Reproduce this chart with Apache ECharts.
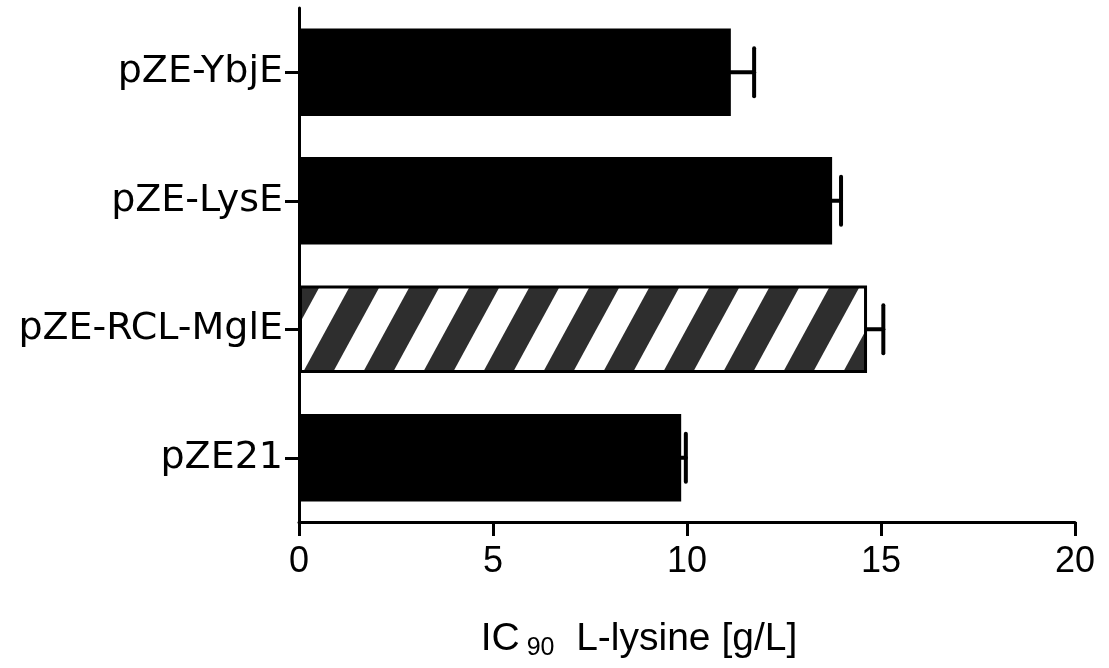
<!DOCTYPE html>
<html>
<head>
<meta charset="utf-8">
<script src="https://cdn.jsdelivr.net/npm/echarts@6/dist/echarts.min.js"></script>
<style>
  html, body { margin: 0; padding: 0; background: #fff; }
  #chart { width: 1109px; height: 668px; }
</style>
</head>
<body>
<div id="chart"></div>
<script>
  const categories = ['pZE-YbjE', 'pZE-LysE', 'pZE-RCL-MglE', 'pZE21']
  const values = [11.13, 13.74, 14.64, 9.85]
  const errors = [0.6, 0.23, 0.42, 0.12]
  const hatched = [false, false, true, false]
  const xTicks = [0, 5, 10, 15, 20]

  // diagonal stripe tile for the hatched bar (period 60px, anchored to canvas origin)
  function stripeTile() {
    const w = 60, h = 110, off = 26
    const c = document.createElement('canvas')
    c.width = w
    c.height = h
    const ctx = c.getContext('2d')
    ctx.fillStyle = '#fff'
    ctx.fillRect(0, 0, w, h)
    ctx.fillStyle = '#2e2e2e'
    for (let k = -2; k <= 3; k++) {
      const x = off + k * w
      ctx.beginPath()
      ctx.moveTo(x, 0)
      ctx.lineTo(x + w / 2, 0)
      ctx.lineTo(x - w / 2, h)
      ctx.lineTo(x - w, h)
      ctx.closePath()
      ctx.fill()
    }
    return c
  }

  const chart = echarts.init(document.getElementById('chart'))
  const tile = stripeTile()

  const barData = values.map((v, i) => {
    if (!hatched[i]) return { value: v, itemStyle: { color: '#000' } }
    return {
      value: v,
      itemStyle: {
        color: { image: tile, repeat: 'repeat' },
        borderColor: '#000',
        borderWidth: 3
      }
    }
  })
  const errData = values.map((v, i) => [i, v, v + errors[i]])

  chart.setOption({
    animation: false,
    grid: { left: 299, right: 34, top: 8, bottom: 146, containLabel: false, outerBoundsMode: 'none' },
    xAxis: {
      type: 'value',
      min: xTicks[0],
      max: xTicks[xTicks.length - 1],
      interval: 5,
      splitLine: { show: false },
      axisLine: { show: true, lineStyle: { color: '#000', width: 3 } },
      axisTick: { show: true, length: 14, lineStyle: { color: '#000', width: 3 } },
      axisLabel: {
        color: '#000',
        fontFamily: 'Liberation Sans',
        fontSize: 36,
        margin: 22
      },
      name: '{a|IC}{s| 90}{a|  L-lysine [g/L]}',
      nameLocation: 'middle',
      nameGap: 95,
      nameTextStyle: {
        padding: [0, 96, 0, 0],
        rich: {
          a: { fontFamily: 'Liberation Sans', fontSize: 39, color: '#000', verticalAlign: 'middle', lineHeight: 44 },
          s: { fontFamily: 'Liberation Sans', fontSize: 25, color: '#000', verticalAlign: 'bottom', lineHeight: 16 }
        }
      }
    },
    yAxis: {
      type: 'category',
      inverse: true,
      data: categories,
      axisLine: { show: true, lineStyle: { color: '#000', width: 3 } },
      axisTick: { show: true, alignWithLabel: true, length: 14, lineStyle: { color: '#000', width: 3 } },
      axisLabel: {
        color: '#000',
        fontFamily: 'DejaVu Sans',
        fontSize: 38,
        margin: 16
      }
    },
    series: [
      {
        type: 'bar',
        data: barData,
        barCategoryGap: '32%',
        z: 2
      },
      {
        type: 'custom',
        z: 3,
        encode: { x: [1, 2], y: 0 },
        data: errData,
        renderItem: function (params, api) {
          const idx = api.value(0)
          const p0 = api.coord([api.value(1), idx])
          const p1 = api.coord([api.value(2), idx])
          const half = 24
          const style = { stroke: '#000', lineWidth: 4, lineCap: 'round' }
          return {
            type: 'group',
            children: [
              { type: 'line', shape: { x1: p0[0], y1: p0[1], x2: p1[0], y2: p1[1] }, style: style },
              { type: 'line', shape: { x1: p1[0], y1: p1[1] - half, x2: p1[0], y2: p1[1] + half }, style: style }
            ]
          }
        }
      }
    ]
  })
</script>
</body>
</html>
